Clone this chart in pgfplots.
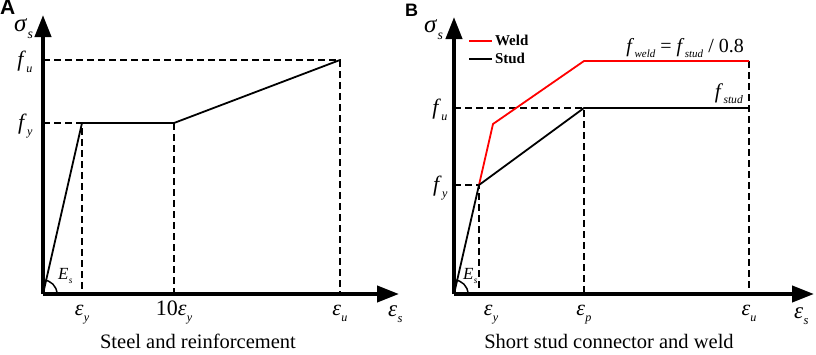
\documentclass[border=0pt]{standalone}
\usepackage{fontspec}
\setmainfont{Liberation Serif}
\setsansfont{Liberation Sans}
\usepackage{pgfplots}
\pgfplotsset{compat=1.18}
\usetikzlibrary{arrows.meta}
\newcommand{\lab}[2]{\textit{#1}\kern0.3pt\raisebox{-0.28em}{\scalebox{0.55}{\textit{#2}}}}
\newcommand{\fs}[1]{\fontsize{#1}{#1}\selectfont}
\begin{document}
\begin{tikzpicture}[x=1pt,y=1pt]
\path[use as bounding box] (0,0) rectangle (816,354);
\pgfplotsset{
 myaxis/.style={anchor=south west, scale only axis, axis lines=left, clip=false,
   axis line style={line width=4pt},
   x axis line style={-{Triangle[length=22pt,width=16pt]}},
   y axis line style={-{Triangle[length=22pt,width=16pt]}},
   major tick length=0pt, tick style={draw=none},
   xticklabel style={anchor=base, yshift=-21pt, font=\fs{22}},
   yticklabel style={anchor=base east, yshift=-6pt, font=\fs{22}},
 },
 curve/.style={line width=1.8pt, black},
 dline/.style={line width=1.6pt, dash pattern=on 7pt off 4pt, black},
}
% Panel A
\node[anchor=base west, inner sep=0pt, font=\sffamily\bfseries\fs{21}] at (0,339) {A};
\begin{axis}[myaxis, at={(43,60)}, width=356pt, height=279pt,
  xmin=0, xmax=356, ymin=0, ymax=279,
  xtick={39,131,297}, xticklabels={\lab{ε}{y}, 10\lab{ε}{y}, \lab{ε}{u}},
  ytick={171,234}, yticklabels={\lab{f}{y}, \lab{f}{u}},
  yticklabel style={xshift=-7pt}]
\addplot[dline, forget plot] coordinates {(0,171) (39,171) (39,0)};
\addplot[dline, forget plot] coordinates {(131,171) (131,0)};
\addplot[dline, forget plot] coordinates {(0,234) (297,234) (297,0)};
\addplot[curve] coordinates {(0,0) (39,171) (131,171) (297,234)};
\draw[line width=1.5pt] (axis cs:14,0) arc[start angle=0, end angle=90, radius=14pt];
\node[anchor=base west, inner sep=0pt, font=\fs{17}] at (axis cs:15,15) {\lab{E}{s}};
\end{axis}
\node[anchor=base west, inner sep=0pt, font=\fs{25}] at (14,322) {\lab{σ}{s}};
\node[anchor=base west, inner sep=0pt, font=\fs{23}] at (388,38) {\lab{ε}{s}};
\node[anchor=base, inner sep=0pt, font=\fs{20.5}] at (198,6) {Steel and reinforcement};
% Panel B
\node[anchor=base west, inner sep=0pt, font=\sffamily\bfseries\fs{18}] at (405,337) {B};
\begin{axis}[myaxis, at={(454,60)}, width=360pt, height=277pt,
  xmin=0, xmax=360, ymin=0, ymax=277,
  xtick={25,130,295}, xticklabels={{\kern24pt\lab{ε}{y}}, \lab{ε}{p}, \lab{ε}{u}},
  ytick={109,186}, yticklabels={\lab{f}{y}, \lab{f}{u}},
  yticklabel style={xshift=-3pt},
  legend style={at={(axis cs:14,262)}, anchor=north west, draw=none, fill=none,
    font=\fs{15}\bfseries, inner sep=0pt, row sep=0pt,
    nodes={inner sep=2pt, text height=11pt, text depth=3pt}},
  legend cell align=left,
  legend image code/.code={\draw[#1] (0pt,0pt) -- (23pt,0pt);}]
\addplot[dline, forget plot] coordinates {(0,109) (25,109) (25,0)};
\addplot[dline, forget plot] coordinates {(0,186) (130,186) (130,0)};
\addplot[dline, forget plot] coordinates {(295,233) (295,0)};
\addplot[line width=1.8pt, red] coordinates {(25,109) (39,170) (130,233) (295,233)};
\addlegendentry{Weld}
\addplot[curve] coordinates {(0,0) (25,109) (130,186) (295,186)};
\addlegendentry{Stud}
\draw[line width=1.5pt] (axis cs:14,0) arc[start angle=0, end angle=90, radius=14pt];
\node[anchor=base west, inner sep=0pt, font=\fs{17}] at (axis cs:9,15) {\lab{E}{s}};
\node[anchor=base east, inner sep=0pt, font=\fs{20}] at (axis cs:290,242) {\lab{f}{weld} = \lab{f}{stud} / 0.8};
\node[anchor=base east, inner sep=0pt, font=\fs{21}] at (axis cs:289,196) {\lab{f}{stud}};
\end{axis}
\node[anchor=base west, inner sep=0pt, font=\fs{25}] at (424,321) {\lab{σ}{s}};
\node[anchor=base west, inner sep=0pt, font=\fs{23}] at (794,36) {\lab{ε}{s}};
\node[anchor=base, inner sep=0pt, font=\fs{20.5}] at (609,6) {Short stud connector and weld};
\end{tikzpicture}
\end{document}
